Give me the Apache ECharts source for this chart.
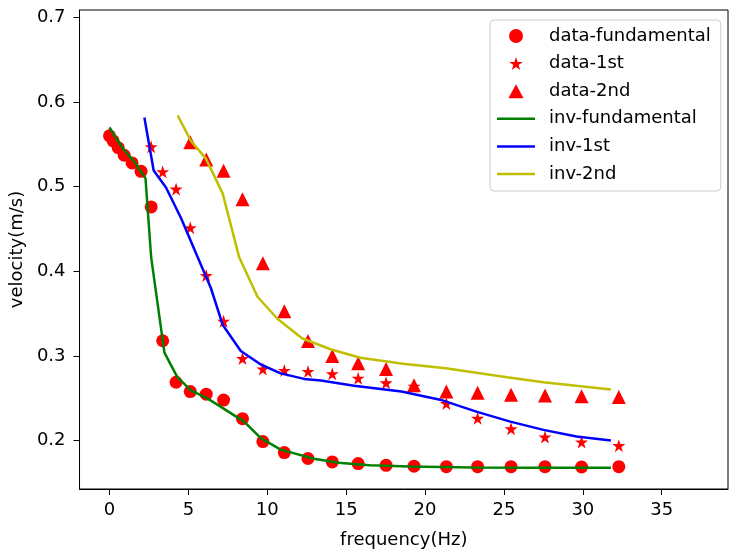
<!DOCTYPE html>
<html>
<head>
<meta charset="utf-8">
<script src="https://cdn.jsdelivr.net/npm/echarts@6/dist/echarts.min.js"></script>
<style>html,body{margin:0;padding:0;background:#fff}#c{width:729px;height:554px}</style>
</head>
<body>
<div id="c"></div>
<script>
// ---- data ----
var fundFreq = [0, 0.23, 0.55, 0.93, 1.43, 2.0, 2.64, 3.37, 4.22, 5.12, 6.13, 7.23, 8.43, 9.72, 11.08, 12.58, 14.12, 15.76, 17.53, 19.3, 21.35, 23.33, 25.45, 27.6, 29.92, 32.28];
var fundVel  = [0.560, 0.554, 0.546, 0.537, 0.528, 0.518, 0.476, 0.318, 0.269, 0.258, 0.255, 0.248, 0.226, 0.199, 0.186, 0.179, 0.175, 0.173, 0.171, 0.170, 0.1694, 0.1694, 0.1694, 0.1694, 0.169, 0.1694];

var firstFreq = [2.64, 3.37, 4.22, 5.12, 6.13, 7.23, 8.43, 9.72, 11.08, 12.58, 14.12, 15.76, 17.53, 19.3, 21.35, 23.33, 25.45, 27.6, 29.92, 32.28];
var firstVel  = [0.547, 0.5175, 0.497, 0.4515, 0.395, 0.341, 0.297, 0.2846, 0.283, 0.2818, 0.279, 0.2737, 0.2683, 0.2644, 0.2439, 0.2264, 0.214, 0.2043, 0.1985, 0.1942];

var secondFreq = [5.12, 6.13, 7.23, 8.43, 9.72, 11.08, 12.58, 14.12, 15.76, 17.53, 19.3, 21.35, 23.33, 25.45, 27.6, 29.92, 32.28];
var secondVel  = [0.5524, 0.532, 0.5186, 0.485, 0.4095, 0.3528, 0.3176, 0.300, 0.2916, 0.2846, 0.2655, 0.258, 0.2567, 0.2544, 0.2535, 0.2524, 0.2516];

var invFundFreq = [0, 0.42, 0.95, 1.58, 2.28, 2.64, 3.48, 4.3, 5.16, 6.2, 7.06, 8.53, 9.59, 10.85, 12.96, 14.5, 16.5, 19, 23, 27, 31.78];
var invFundVel  = [0.57, 0.557, 0.5426, 0.529, 0.51, 0.4165, 0.304, 0.275, 0.2594, 0.25, 0.24, 0.2225, 0.203, 0.1895, 0.1787, 0.174, 0.171, 0.1695, 0.1685, 0.168, 0.168];

var inv1Freq = [2.21, 2.8, 3.58, 4.53, 5.59, 6.43, 7.17, 8.32, 9.59, 10.85, 12.33, 13.4, 15.5, 18.5, 21.1, 23.3, 25.4, 27.5, 29.6, 31.78];
var inv1Vel  = [0.5815, 0.519, 0.499, 0.463, 0.4165, 0.38, 0.337, 0.306, 0.290, 0.2795, 0.273, 0.271, 0.265, 0.258, 0.2477, 0.234, 0.2225, 0.2128, 0.205, 0.2003];

var inv2Freq = [4.32, 5.16, 6.11, 7.17, 8.22, 9.38, 10.64, 12.2, 14.0, 15.9, 18.6, 21.3, 25.2, 27.5, 31.78];
var inv2Vel  = [0.584, 0.554, 0.533, 0.492, 0.4165, 0.37, 0.344, 0.321, 0.308, 0.298, 0.291, 0.2855, 0.275, 0.269, 0.2605];

var xTicks = [0, 5, 10, 15, 20, 25, 30, 35];
var yTicks = [0.2, 0.3, 0.4, 0.5, 0.6, 0.7];

function zip(a, b) { return a.map(function (v, i) { return [v, b[i]]; }); }

var FONT = 'DejaVu Sans';
var FS = 18;
var STAR = 'path://M0,-1L0.2245,-0.309L0.9511,-0.309L0.3633,0.118L0.5878,0.809L0,0.382L-0.5878,0.809L-0.3633,0.118L-0.9511,-0.309L-0.2245,-0.309Z';
var STAR_LEG = 'path://M-1.05,-1.05M1.05,0.9M0,-1L0.2245,-0.309L0.9511,-0.309L0.3633,0.118L0.5878,0.809L0,0.382L-0.5878,0.809L-0.3633,0.118L-0.9511,-0.309L-0.2245,-0.309Z';
var TRI_LEG = 'path://M0,-1L1.08,1L-1.08,1Z';
var LINE_LEG = 'path://M0,0L38,0L38,2.5L0,2.5Z';

var chart = echarts.init(document.getElementById('c'), null, { renderer: 'canvas' });
chart.setOption({
  animation: false,
  backgroundColor: '#fff',
  textStyle: { fontFamily: FONT },
  grid: { left: 78, right: 1, top: 10, bottom: 59, show: true, borderColor: '#000', borderWidth: 1, containLabel: false },
  xAxis: {
    type: 'value', min: -1.9, max: 39.2,
    name: 'frequency(Hz)', nameLocation: 'middle', nameGap: 42,
    nameTextStyle: { fontFamily: FONT, fontSize: FS, color: '#000' },
    axisLine: { show: true, onZero: false, lineStyle: { color: '#000', width: 1 } },
    axisTick: { show: true, inside: false, length: 6, customValues: xTicks, lineStyle: { color: '#000' } },
    axisLabel: { customValues: xTicks, margin: 12, fontFamily: FONT, fontSize: FS, color: '#000' },
    splitLine: { show: false }
  },
  yAxis: {
    type: 'value', min: 0.143, max: 0.7085,
    name: 'velocity(m/s)', nameLocation: 'middle', nameGap: 45, nameRotate: 90,
    nameTextStyle: { fontFamily: FONT, fontSize: FS, color: '#000' },
    axisLine: { show: true, onZero: false, lineStyle: { color: '#000', width: 1 } },
    axisTick: { show: true, inside: false, length: 6, customValues: yTicks, lineStyle: { color: '#000' } },
    axisLabel: { customValues: yTicks, margin: 14, fontFamily: FONT, fontSize: FS, color: '#000',
      formatter: function (v) { return v.toFixed(1); } },
    splitLine: { show: false }
  },
  legend: {
    orient: 'vertical', left: 490, top: 20,
    padding: [7, 10, 8, 7], itemGap: 9.6, itemWidth: 38, itemHeight: 14,
    symbolKeepAspect: true,
    backgroundColor: 'rgba(255,255,255,0.8)', borderColor: '#cccccc', borderWidth: 1, borderRadius: 4,
    textStyle: { fontFamily: FONT, fontSize: FS, color: '#000', lineHeight: 18, padding: [0, 0, 0, 9] },
    data: [
      { name: 'data-fundamental', icon: 'circle' },
      { name: 'data-1st', icon: STAR_LEG },
      { name: 'data-2nd', icon: TRI_LEG },
      { name: 'inv-fundamental', icon: LINE_LEG },
      { name: 'inv-1st', icon: LINE_LEG },
      { name: 'inv-2nd', icon: LINE_LEG }
    ]
  },
  series: [
    { name: 'data-fundamental', type: 'scatter', symbol: 'circle', symbolSize: 13, itemStyle: { color: '#ff0000', opacity: 1 }, data: zip(fundFreq, fundVel) },
    { name: 'data-1st', type: 'scatter', symbol: STAR, symbolSize: 13, itemStyle: { color: '#ff0000', opacity: 1 }, data: zip(firstFreq, firstVel) },
    { name: 'data-2nd', type: 'scatter', symbol: 'triangle', symbolSize: 14, itemStyle: { color: '#ff0000', opacity: 1 }, data: zip(secondFreq, secondVel) },
    { name: 'inv-fundamental', type: 'line', symbol: 'none', lineStyle: { color: '#008000', width: 2.5 }, itemStyle: { color: '#008000' }, data: zip(invFundFreq, invFundVel) },
    { name: 'inv-1st', type: 'line', symbol: 'none', lineStyle: { color: '#0000ff', width: 2.5 }, itemStyle: { color: '#0000ff' }, data: zip(inv1Freq, inv1Vel) },
    { name: 'inv-2nd', type: 'line', symbol: 'none', lineStyle: { color: '#bfbf00', width: 2.5 }, itemStyle: { color: '#bfbf00' }, data: zip(inv2Freq, inv2Vel) }
  ]
});
</script>
</body>
</html>
